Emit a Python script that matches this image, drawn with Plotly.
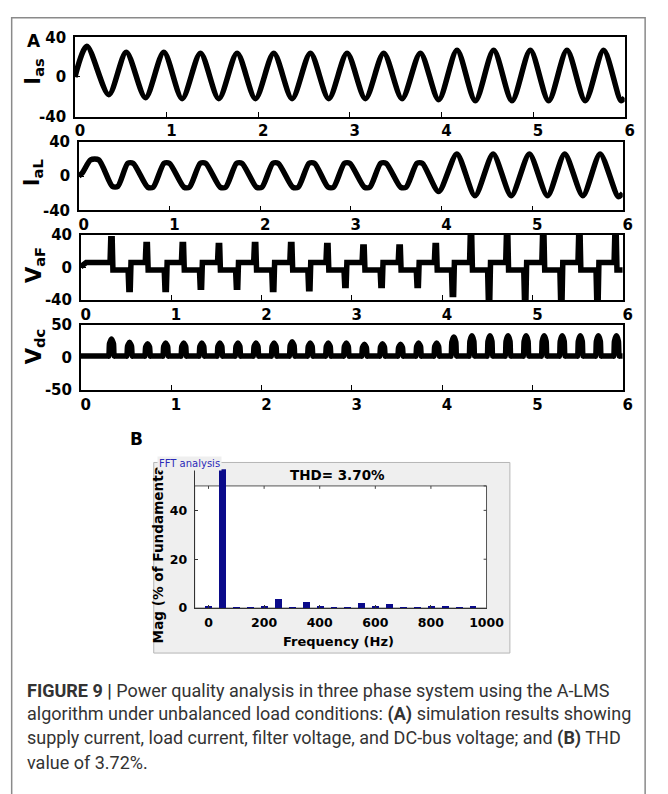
import plotly.graph_objects as go

W, H = 668, 794

# ---- Panel A data (time axis 0..6) ----
ias_t = [0.00, 0.13, 0.37, 0.56, 0.77, 0.97, 1.17, 1.37, 1.57, 1.77, 1.97, 2.17, 2.37, 2.57, 2.77,
         2.97, 3.17, 3.37, 3.57, 3.77, 3.97, 4.17, 4.37, 4.57, 4.77, 4.97, 5.17, 5.37, 5.57, 5.77,
         5.96, 6.00]
ias_v = [0, 31, -18, 25, -21, 25, -22, 24, -22, 24, -22, 24, -22, 24, -22,
         24, -22, 24, -22, 24, -23, 27, -24, 27, -24, 27, -24, 27, -24, 27,
         -24, -21]

ial_t = [0.00, 0.04, 0.13, 0.22, 0.37, 0.43, 0.54, 0.60, 0.76, 0.82, 0.94, 1.00, 1.16, 1.22,
         1.34, 1.40, 1.56, 1.62, 1.74, 1.80, 1.96, 2.02, 2.14, 2.20, 2.36, 2.42, 2.54, 2.60,
         2.75, 2.81, 2.93, 2.99, 3.15, 3.21, 3.33, 3.39, 3.55, 3.61, 3.73, 3.79, 3.97, 4.17,
         4.37, 4.57, 4.77, 4.97, 5.17, 5.36, 5.56, 5.75, 5.95, 6.00]
ial_v = [0, 4, 19, 19, -12, -12, 15, 15, -13, -13, 15, 15, -13, -13,
         15, 15, -13, -13, 15, 15, -13, -13, 15, 15, -13, -13, 15, 15,
         -13, -13, 15, 15, -13, -13, 15, 15, -13, -13, 15, 15, -18, 26,
         -23, 26, -23, 26, -23, 26, -23, 26, -24, -20]

# filter voltage: positive / negative spikes and the two plateau levels
vaf_pos_t = [0.34, 0.73, 1.13, 1.53, 1.93, 2.33, 2.73, 3.13, 3.53, 3.93, 4.32, 4.72, 5.12, 5.52, 5.92]
vaf_pos_v = [35, 28, 28, 27, 28, 28, 27, 25, 25, 27, 40, 40, 40, 40, 40]
vaf_neg_t = [0.54, 0.94, 1.33, 1.73, 2.13, 2.53, 2.93, 3.33, 3.73, 4.12, 4.52, 4.92, 5.32, 5.72]
vaf_neg_v = [-27, -27, -24, -24, -27, -26, -22, -22, -22, -33, -40, -40, -40, -40]
vaf_high = 6
vaf_low = -3

# DC-bus voltage pulses
vdc_t = [0.34, 0.54, 0.74, 0.94, 1.14, 1.34, 1.54, 1.74, 1.94, 2.14, 2.34, 2.54, 2.74, 2.94, 3.14,
         3.34, 3.54, 3.74, 3.94, 4.13, 4.33, 4.53, 4.73, 4.93, 5.13, 5.33, 5.53, 5.73, 5.93]
vdc_v = [28, 23, 21, 22, 22, 22, 22, 22, 22, 22, 24, 22, 22, 22, 20,
         21, 20, 22, 22, 31, 33, 33, 33, 33, 33, 33, 33, 33, 33]
vdc_base = 2

time_ticks = [0, 1, 2, 3, 4, 5, 6]

# ---- Panel B data (FFT) ----
fft_freq = [0, 50, 100, 150, 200, 250, 300, 350, 400, 450, 500, 550, 600, 650, 700, 750, 800, 850, 900, 950]
fft_mag = [0.5, 100, 0.3, 0.3, 0.4, 3.8, 0.3, 2.2, 0.4, 0.3, 0.3, 1.8, 0.4, 1.5, 0.3, 0.3, 0.4, 0.7, 0.3, 0.7]
fft_xticks = [0, 200, 400, 600, 800, 1000]
fft_yticks = [0, 20, 40]
thd_text = "THD= 3.70%"


def build_vaf():
    events = [(t, v, "p") for t, v in zip(vaf_pos_t, vaf_pos_v)] + \
             [(t, v, "n") for t, v in zip(vaf_neg_t, vaf_neg_v)]
    events.sort()
    xs, ys = [0.0, 0.06], [1, vaf_high]
    for t, v, kind in events:
        before = vaf_high if kind == "p" else vaf_low
        after = vaf_low if kind == "p" else vaf_high
        xs += [t - 0.016, t - 0.008, t + 0.008, t + 0.016]
        ys += [before, v, v, after]
    xs.append(6.0)
    ys.append(ys[-1])
    return xs, ys


def build_vdc():
    xs, ys = [0.0], [vdc_base]
    for t, v in zip(vdc_t, vdc_v):
        xs += [t - 0.04, t - 0.03, t - 0.022, t, t + 0.022, t + 0.03, t + 0.04]
        ys += [vdc_base, vdc_base, v * 0.75, v, v * 0.75, vdc_base, vdc_base]
    xs.append(6.0)
    ys.append(vdc_base)
    return xs, ys


def xd(a, b):
    return [a / W, b / W]


def yd(top, bottom):
    return [1 - bottom / H, 1 - top / H]


BOLD = "DejaVu Sans, Liberation Sans, sans-serif"
fig = go.Figure()

line_style = dict(color="black", width=5.5)
fig.add_trace(go.Scatter(x=ias_t, y=ias_v, mode="lines", line=dict(shape="spline", smoothing=0.8, **line_style),
                         xaxis="x", yaxis="y"))
fig.add_trace(go.Scatter(x=ial_t, y=ial_v, mode="lines", line=dict(shape="spline", smoothing=0.7, **line_style),
                         xaxis="x2", yaxis="y2"))
vx, vy = build_vaf()
fig.add_trace(go.Scatter(x=vx, y=vy, mode="lines", line=line_style, xaxis="x3", yaxis="y3"))
dx, dy = build_vdc()
fig.add_trace(go.Scatter(x=dx, y=dy, mode="lines", line=dict(shape="spline", smoothing=0.5, **line_style),
                         xaxis="x4", yaxis="y4"))

fig.add_trace(go.Bar(x=fft_freq, y=fft_mag, width=25, marker=dict(color="#0b0b8a", line=dict(width=0)),
                     xaxis="x5", yaxis="y5"))

panels = [
    (77, 642, 29, 110, [-40, 0, 40], [-40, 40]),
    (81, 640, 136, 206, [-40, 0, 40], [-40, 40]),
    (83, 640, 231, 298, [-40, 0, 40], [-40, 40]),
    (83, 640, 323, 390, [-50, 0, 50], [-50, 50]),
]
axis_common = dict(showline=True, mirror=True, linecolor="black", linewidth=1.5, ticks="inside",
                   ticklen=5, tickcolor="black", showgrid=False, zeroline=False,
                   tickfont=dict(family=BOLD, size=15, color="black", weight=700))
layout = {}
for i, (l, r, t, b, yt, yr) in enumerate(panels, start=1):
    sx = "" if i == 1 else str(i)
    layout["xaxis" + sx] = dict(domain=xd(l, r), anchor="y" + sx, range=[0, 6], tickvals=time_ticks,
                                ticklabelstandoff=0, ticklabelshift=5, **axis_common)
    layout["yaxis" + sx] = dict(domain=yd(t, b), anchor="x" + sx, range=yr, tickvals=yt,
                                ticktext=[str(v) for v in yt], ticklabelstandoff=4, **axis_common)

# FFT axes: box edge at 50 %, the plotting range continues up to the window top
fft_left, fft_right, fft_box_top, fft_top, fft_bottom = 200, 500, 488, 471, 613
px_per_unit = (fft_bottom - fft_box_top) / 50.0
fft_ymax = (fft_bottom - fft_top) / px_per_unit
fft_axis = dict(showline=True, mirror=False, linecolor="#333", linewidth=1, ticks="inside", ticklen=3,
                tickcolor="#333", showgrid=False, zeroline=False,
                tickfont=dict(family=BOLD, size=12.5, color="black", weight=700))
layout["xaxis5"] = dict(domain=xd(fft_left, fft_right), anchor="y5", range=[-50, 1000],
                        tickvals=fft_xticks, ticklabelstandoff=3, **fft_axis)
layout["yaxis5"] = dict(domain=yd(fft_top, fft_bottom), anchor="x5", range=[0, fft_ymax], tickvals=fft_yticks,
                        ticklabelstandoff=4, **fft_axis)

shapes = [
    # outer frame
    dict(type="rect", xref="paper", yref="paper", x0=12 / W, x1=663 / W, y0=-0.05, y1=1 - 9 / H,
         line=dict(color="#8a8a8a", width=1.5), layer="below"),
    # FFT window panel
    dict(type="rect", xref="paper", yref="paper", x0=158 / W, x1=524 / W, y0=1 - 659 / H, y1=1 - 464 / H,
         fillcolor="#efefef", line=dict(color="#b5b5b5", width=1), layer="below"),
    dict(type="rect", xref="paper", yref="paper", x0=fft_left / W, x1=fft_right / W,
         y0=1 - fft_bottom / H, y1=1 - fft_box_top / H,
         fillcolor="white", line=dict(color="#555", width=1), layer="below"),
]
# mirrored tick marks on the top and right edges of the FFT axes
for xv in fft_xticks[:-1]:
    shapes.append(dict(type="line", xref="x5", yref="paper", x0=xv, x1=xv,
                       y0=1 - (fft_box_top + 3) / H, y1=1 - fft_box_top / H,
                       line=dict(color="#444", width=1, dash="dot")))
for yv in fft_yticks[1:] + [50]:
    shapes.append(dict(type="line", xref="paper", yref="y5", x0=(fft_right - 3) / W, x1=fft_right / W,
                       y0=yv, y1=yv, line=dict(color="#444", width=1, dash="dot")))


def ann(text, px, py, size, xanchor="center", yanchor="middle", angle=0, color="black", bold=True,
        family=BOLD, bg=None):
    d = dict(text=text, x=px / W, y=1 - py / H, xref="paper", yref="paper", showarrow=False,
             xanchor=xanchor, yanchor=yanchor, textangle=angle,
             font=dict(family=family, size=size, color=color, weight=700 if bold else 400))
    if bg:
        d["bgcolor"] = bg
    return d


annotations = [
    ann("A", 35, 33, 17),
    ann("I<sub>as</sub>", 34, 64, 21, angle=-90),
    ann("I<sub>aL</sub>", 34, 168, 21, angle=-90),
    ann("V<sub>aF</sub>", 36, 262, 21, angle=-90),
    ann("V<sub>dc</sub>", 36, 345, 21, angle=-90),
    ann("B", 140, 440, 17),
    ann(thd_text, 347, 477, 13.5),
    ann("Frequency (Hz)", 348, 647, 13),
    ann("Mag (% of Fundamenta", 162, 651, 13.6, yanchor="bottom", angle=-90),
    ann("FFT analysis", 161, 465, 10, xanchor="left", color="#2a2ab8", bold=False, bg="#efefef"),
]

CAP = "Liberation Sans Narrow, Roboto, sans-serif"
cap_lines = [
    "<b>FIGURE 9 |</b> Power quality analysis in three phase system using the A-LMS",
    "algorithm under unbalanced load conditions: <b>(A)</b> simulation results showing",
    "supply current, load current, filter voltage, and DC-bus voltage; and <b>(B)</b> THD",
    "value of 3.72%.",
]
for k, line in enumerate(cap_lines):
    annotations.append(ann(line, 26, 697 + 24.5 * k, 18, xanchor="left", color="#333333",
                           bold=False, family=CAP))

fig.update_layout(width=W, height=H, margin=dict(l=0, r=0, t=0, b=0), showlegend=False,
                  paper_bgcolor="white", plot_bgcolor="white", shapes=shapes,
                  annotations=annotations, bargap=0, **layout)

fig.write_html("out.html")
